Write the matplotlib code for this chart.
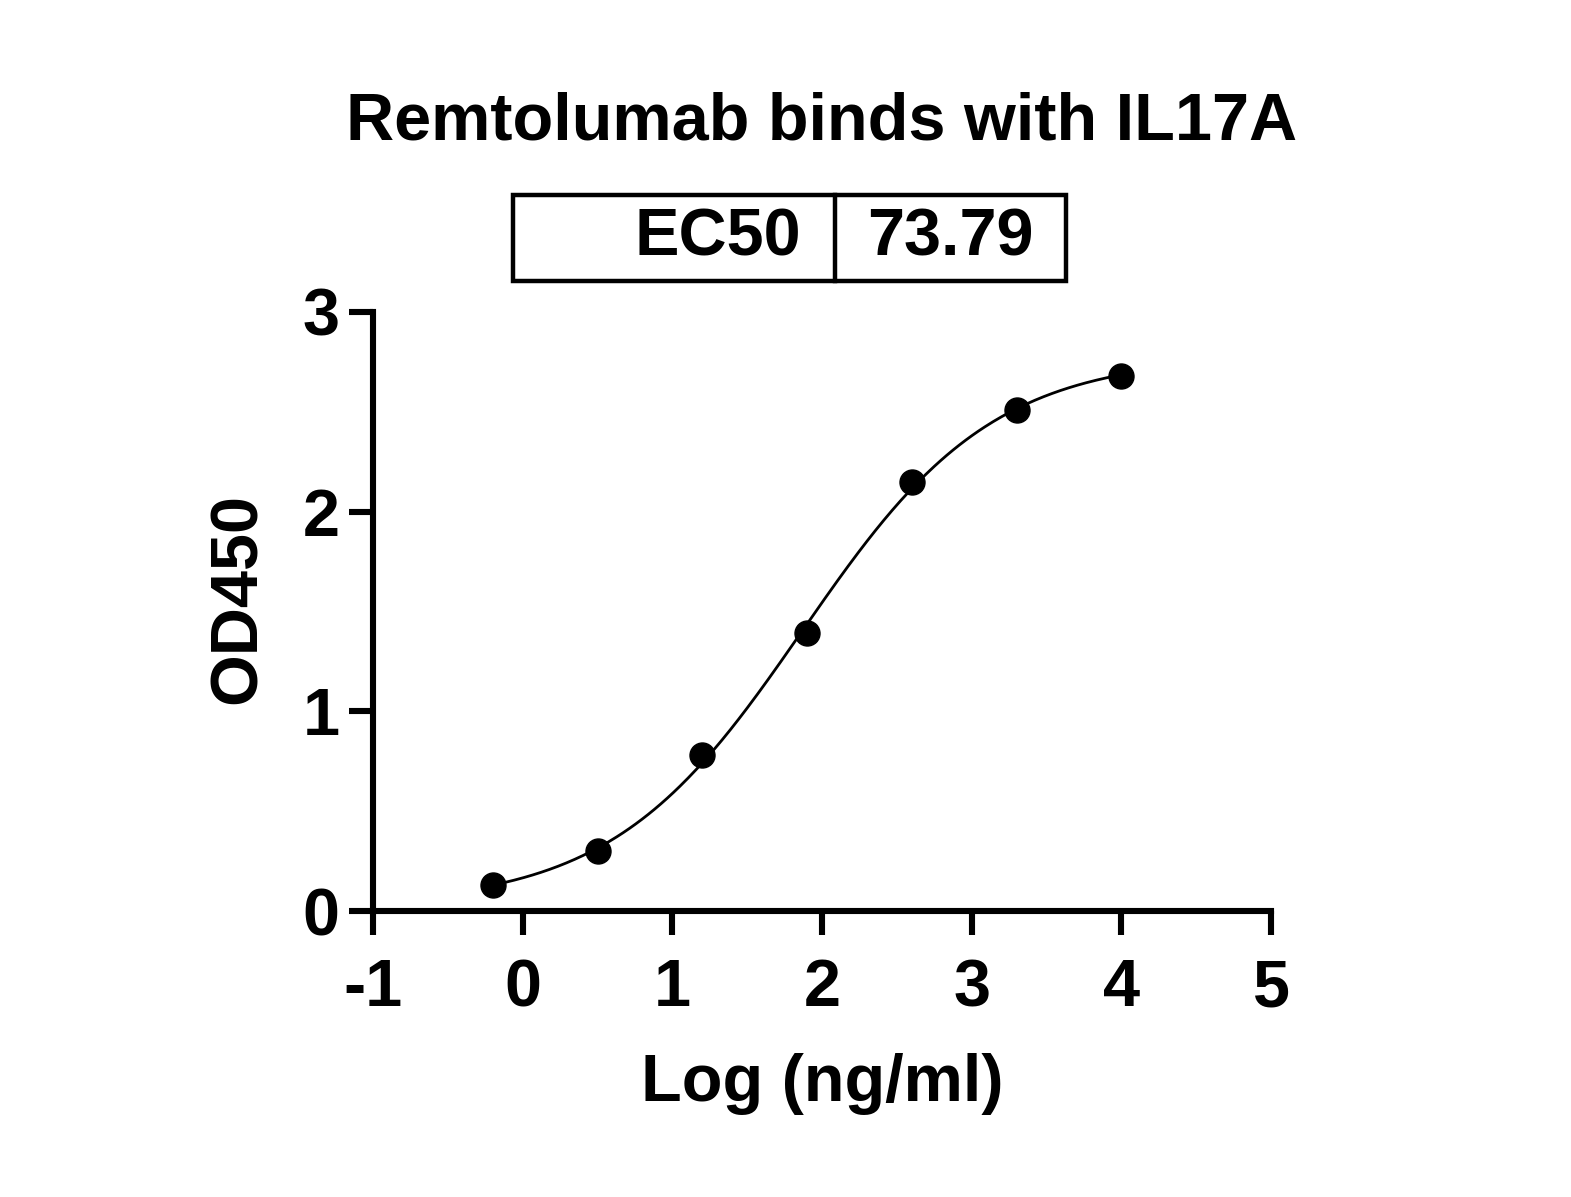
import matplotlib.pyplot as plt
import numpy as np
from matplotlib.patches import Rectangle
from matplotlib.lines import Line2D

plt.rcParams['font.family'] = ['Liberation Sans', 'DejaVu Sans']
plt.rcParams['font.weight'] = 'bold'

# ELISA binding data
log_conc = [-0.2, 0.5, 1.2, 1.9, 2.6, 3.3, 4.0]
od450 = [0.13, 0.30, 0.78, 1.39, 2.15, 2.51, 2.68]
ec50 = 73.79

x_ticks = [-1, 0, 1, 2, 3, 4, 5]
y_ticks = [0, 1, 2, 3]

# 4PL fit with log EC50 fixed from the reported value
xd = np.array(log_conc)
yd = np.array(od450)
log_ec50 = np.log10(ec50)
best = None
for hill in np.linspace(0.3, 2.0, 341):
    f = 1.0 / (1.0 + 10 ** ((log_ec50 - xd) * hill))
    A = np.column_stack([1 - f, f])
    coef, *_ = np.linalg.lstsq(A, yd, rcond=None)
    err = np.sum((A @ coef - yd) ** 2)
    if best is None or err < best[0]:
        best = (err, hill, coef)
_, hill, (bottom, top) = best
xs = np.linspace(min(log_conc), max(log_conc), 300)
ys = bottom + (top - bottom) / (1.0 + 10 ** ((log_ec50 - xs) * hill))

fig = plt.figure(figsize=(15.71, 11.97), dpi=100)
ax = fig.add_axes([373 / 1571, 1 - 911 / 1197, 898 / 1571, 599 / 1197])

ax.plot(xs, ys, color='black', lw=2.0, zorder=2)
ax.plot(log_conc, od450, 'o', color='black', ms=18, zorder=3, clip_on=False)

ax.set_xlim(-1, 5)
ax.set_ylim(0, 3)
ax.set_xticks(x_ticks)
ax.set_yticks(y_ticks)
ax.set_xticklabels([str(v) for v in x_ticks])
ax.set_yticklabels([str(v) for v in y_ticks])
ax.spines[['right', 'top']].set_visible(False)
for s in ['left', 'bottom']:
    ax.spines[s].set_linewidth(4.4)
ax.tick_params(width=4.4, length=17, labelsize=48)
ax.tick_params(axis='x', pad=17)
ax.tick_params(axis='y', pad=7)
ax.set_xlabel('Log (ng/ml)', fontsize=48, fontweight='bold')
ax.set_ylabel('OD450', fontsize=48, fontweight='bold')
ax.xaxis.set_label_coords(0.5, -0.237)
ax.yaxis.set_label_coords(-0.115, 0.522)

fig.text(822 / 1571, 1 - 122 / 1197, 'Remtolumab binds with IL17A',
         ha='center', va='center', fontsize=48, fontweight='bold')

# EC50 box
bx0, bx1, bdiv, by0, by1 = 513 / 1571, 1066 / 1571, 835 / 1571, 1 - 281 / 1197, 1 - 195 / 1197
fig.patches.append(Rectangle((bx0, by0), bx1 - bx0, by1 - by0, transform=fig.transFigure,
                             fill=False, lw=3.2, edgecolor='black'))
fig.lines.append(Line2D([bdiv, bdiv], [by0, by1], transform=fig.transFigure, lw=3.2, color='black'))
ymid = (by0 + by1) / 2
fig.text(801 / 1571, ymid, 'EC50', ha='right', va='center', fontsize=48, fontweight='bold')
fig.text((bdiv + bx1) / 2, ymid, f'{ec50:.2f}', ha='center', va='center', fontsize=48, fontweight='bold')

plt.savefig('out.png', dpi=100)
plt.close(fig)
